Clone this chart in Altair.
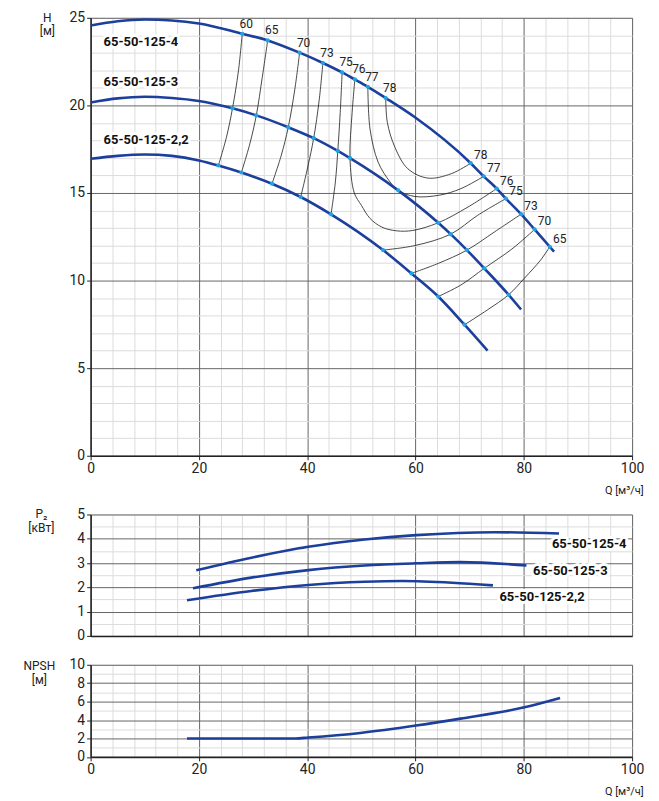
import altair as alt
import pandas as pd

FONT = "Roboto"
BLUE = "#1c3f9c"
CYAN = "#1aa3e6"
INK = "#222222"

# ---------------- H(Q) pump curves ----------------
h4_q = [0, 5, 10, 15, 20, 28.0, 32.7, 38.6, 42.9, 46.45, 48.8, 51.2, 54.5, 59.9,
        70.2, 72.6, 75.0, 76.7, 79.5, 82.0, 84.8, 85.6]
h4_h = [24.56, 24.8, 24.9, 24.85, 24.68, 24.09, 23.71, 23.01, 22.42, 21.88, 21.48,
        21.06, 20.42, 19.32, 16.70, 15.95, 15.25, 14.68, 13.79, 12.92, 11.93, 11.65]

h3_q = [0, 5, 10, 15, 20, 26.2, 30.6, 36.5, 41.2, 45.65, 47.9, 56.8, 64.2, 66.5,
        69.5, 72.7, 77.2, 79.5]
h3_h = [20.17, 20.4, 20.49, 20.42, 20.25, 19.83, 19.43, 18.75, 18.13, 17.40, 16.99,
        15.15, 13.30, 12.65, 11.74, 10.70, 9.19, 8.35]

h22_q = [0, 5, 10, 15, 20, 23.6, 27.85, 33.5, 38.8, 44.4, 54.0, 59.25, 64.2, 69.05, 73.3]
h22_h = [16.95, 17.12, 17.2, 17.12, 16.86, 16.57, 16.17, 15.53, 14.77, 13.78, 11.74,
         10.41, 9.09, 7.48, 6.0]

models = ["65-50-125-4", "65-50-125-3", "65-50-125-2,2"]

# ---------------- efficiency contours ----------------
c60_q = [28.0, 27.3, 26.2, 25.1, 23.6]
c60_h = [24.09, 21.97, 19.83, 18.2, 16.57]
c65_q = [32.7, 31.7, 30.6, 29.4, 27.85]
c65_h = [23.71, 21.6, 19.43, 17.8, 16.17]
c70_q = [38.6, 37.7, 36.5, 35.2, 33.5]
c70_h = [23.01, 20.89, 18.75, 17.14, 15.53]
c73_q = [42.9, 42.2, 41.2, 40.1, 38.8]
c73_h = [22.42, 20.27, 18.13, 16.48, 14.77]
c75a_q = [46.45, 46.1, 45.65, 45.2, 44.4]
c75a_h = [21.88, 19.6, 17.40, 15.63, 13.78]
c76_q = [48.8, 48.3, 47.9, 48.7, 50.0, 51.6, 53.8, 56.5, 59.5, 64.2, 69.7, 75.0]
c76_h = [21.48, 19.6, 16.99, 15.0, 14.3, 13.55, 13.05, 12.84, 12.86, 13.30, 14.2, 15.25]
c77_q = [51.2, 51.6, 53.1, 55.3, 56.8, 59.9, 64.5, 68.4, 72.6]
c77_h = [21.06, 18.66, 16.76, 15.63, 15.15, 14.8, 14.88, 15.25, 15.95]
c78_q = [54.5, 54.8, 56.2, 58.6, 62.3, 66.6, 70.2]
c78_h = [20.42, 19.03, 17.61, 16.38, 15.85, 16.10, 16.70]
c75b_q = [54.0, 59.9, 66.5, 71.5, 76.7]
c75b_h = [11.74, 12.0, 12.65, 13.73, 14.68]
c73b_q = [59.25, 64.2, 69.5, 74.6, 79.5]
c73b_h = [10.41, 10.98, 11.74, 12.78, 13.79]
c70b_q = [64.2, 68.4, 72.7, 77.8, 82.0]
c70b_h = [9.09, 9.75, 10.70, 11.8, 12.92]
c65b_q = [69.05, 73.3, 77.2, 80.1, 83.1, 84.8]
c65b_h = [7.48, 8.33, 9.19, 10.13, 11.17, 11.93]

# intersection markers
m_q = [28.0, 32.7, 38.6, 42.9, 46.45, 48.8, 51.2, 54.5, 70.2, 72.6, 75.0, 76.7, 79.5, 82.0, 84.8,
       26.2, 30.6, 36.5, 41.2, 45.65, 47.9, 56.8, 64.2, 66.5, 69.5, 72.7, 77.2,
       23.6, 27.85, 33.5, 38.8, 44.4, 54.0, 59.25, 64.2, 69.05]
m_h = [24.09, 23.71, 23.01, 22.42, 21.88, 21.48, 21.06, 20.42, 16.70, 15.95, 15.25, 14.68, 13.79, 12.92, 11.93,
       19.83, 19.43, 18.75, 18.13, 17.40, 16.99, 15.15, 13.30, 12.65, 11.74, 10.70, 9.19,
       16.57, 16.17, 15.53, 14.77, 13.78, 11.74, 10.41, 9.09, 7.48]

# efficiency labels
effL_txt = ["60", "65", "70", "73", "75", "76", "77", "78"]
effL_q = [28.0, 32.7, 38.6, 42.9, 46.45, 48.8, 51.2, 54.5]
effL_h = [24.09, 23.71, 23.01, 22.42, 21.88, 21.48, 21.06, 20.42]
effR_txt = ["78", "77", "76", "75", "73", "70", "65"]
effR_q = [70.2, 72.6, 75.0, 76.7, 79.5, 82.0, 84.8]
effR_h = [16.70, 15.95, 15.25, 14.68, 13.79, 12.92, 11.93]

# model labels in H panel
lblH_q = [2.4, 2.4, 2.4]
lblH_h = [23.64, 21.36, 18.03]

# ---------------- P2(Q) ----------------
p4_q = [19.5, 29.7, 40.2, 50.6, 60.1, 74.5, 86.5]
p4_p = [2.70, 3.22, 3.67, 3.97, 4.15, 4.27, 4.22]
p3_q = [18.9, 29.7, 40.2, 50.6, 60.1, 68.3, 80.5]
p3_p = [1.96, 2.40, 2.71, 2.90, 2.99, 3.04, 2.90]
p22_q = [17.8, 29.7, 40.2, 50.6, 57.5, 66.8, 74.3]
p22_p = [1.47, 1.85, 2.10, 2.23, 2.26, 2.19, 2.08]
lblP_q = [85.2, 81.7, 75.5]
lblP_p = [3.79, 2.66, 1.59]

# ---------------- NPSH(Q) ----------------
n_q = [17.8, 30.0, 37.8, 40.2, 49.8, 60.1, 68.3, 79.9, 86.7]
n_v = [2.0, 2.0, 2.0, 2.1, 2.6, 3.4, 4.15, 5.35, 6.4]

# ---------------- tables ----------------
curves = pd.concat([
    pd.DataFrame({"Q": q, "V": h, "model": m})
    for q, h, m in [(h4_q, h4_h, models[0]), (h3_q, h3_h, models[1]), (h22_q, h22_h, models[2])]
])
contour_list = [("60", c60_q, c60_h), ("65", c65_q, c65_h), ("70", c70_q, c70_h),
                ("73", c73_q, c73_h), ("75a", c75a_q, c75a_h), ("76", c76_q, c76_h),
                ("77", c77_q, c77_h), ("78", c78_q, c78_h), ("75b", c75b_q, c75b_h),
                ("73b", c73b_q, c73b_h), ("70b", c70b_q, c70b_h), ("65b", c65b_q, c65b_h)]
contours = pd.concat([
    pd.DataFrame({"Q": q, "V": h, "cid": cid, "ord": list(range(len(q)))})
    for cid, q, h in contour_list
])
markers = pd.DataFrame({"Q": m_q, "V": m_h})
effL = pd.DataFrame({"Q": effL_q, "V": effL_h, "t": effL_txt})
effR = pd.DataFrame({"Q": effR_q, "V": effR_h, "t": effR_txt})
lblH = pd.DataFrame({"Q": lblH_q, "V": lblH_h, "t": models})
power = pd.concat([
    pd.DataFrame({"Q": q, "V": p, "model": m})
    for q, p, m in [(p4_q, p4_p, models[0]), (p3_q, p3_p, models[1]), (p22_q, p22_p, models[2])]
])
lblP = pd.DataFrame({"Q": lblP_q, "V": lblP_p, "t": models})
npsh = pd.DataFrame({"Q": n_q, "V": n_v})


def grid_axis(major, minor, lo, hi, labels=True, ticks=True, **kw):
    n = int(round((hi - lo) / minor))
    vals = [round(lo + i * minor, 4) for i in range(n + 1)]
    test = f"abs(datum.value / {major} - round(datum.value / {major})) < 0.001"
    args = dict(
        values=vals, grid=True,
        gridColor={"condition": {"test": test, "value": "#666666"}, "value": "#dcdcdc"},
        gridWidth=1,
        domainColor=INK, domainWidth=1.5,
        labelFlush=False, labelOverlap=False,
        labelFontSize=14, labelColor=INK, labelFont=FONT, labelPadding=2,
        labelExpr=f"({test}) ? format(datum.value, '~g') : ''",
        tickSize=4, tickWidth=1,
        tickColor={"condition": {"test": test, "value": INK}, "value": "rgba(0,0,0,0)"},
        titleFont=FONT, titleColor=INK, titleFontWeight="normal",
    )
    if not labels:
        args["labels"] = False
    if not ticks:
        args["ticks"] = False
    args.update(kw)
    return alt.Axis(**args)


def enc(xaxis, yaxis, ydom):
    return dict(
        x=alt.X("Q:Q", scale=alt.Scale(domain=[0, 100], nice=False, zero=False), axis=xaxis),
        y=alt.Y("V:Q", scale=alt.Scale(domain=ydom, nice=False, zero=False), axis=yaxis),
    )


q_title = dict(title="Q [м³/ч]", titleFontSize=11, titleAlign="right", titleBaseline="middle",
               titleX=555, titleY=35, titleAngle=0)

# ---- Panel 1: H ----
xa1 = grid_axis(20, 4, 0, 100, **q_title)
ya1 = grid_axis(5, 1, 0, 25, title=["H", "[м]"], titleAngle=0, titleAlign="center",
                titleBaseline="top", titleX=-44, titleY=-5, titleFontSize=12,
                titleLineHeight=13)
e1 = enc(xa1, ya1, [0, 25])

contour_layer = alt.Chart(contours).mark_line(
    color="#1a1a1a", strokeWidth=0.8, interpolate="catmull-rom"
).encode(**e1, detail="cid:N", order="ord:Q")
curve_layer = alt.Chart(curves).mark_line(
    color=BLUE, strokeWidth=2.6, interpolate="monotone"
).encode(**e1, detail="model:N")
marker_layer = alt.Chart(markers).mark_point(
    filled=True, color=CYAN, size=18, opacity=1, shape="circle"
).encode(**e1)
effL_layer = alt.Chart(effL).mark_text(
    font=FONT, fontSize=12, color=INK, dx=4, dy=-10, align="center", baseline="middle"
).encode(**e1, text="t:N")
effR_layer = alt.Chart(effR).mark_text(
    font=FONT, fontSize=12, color=INK, dx=10, dy=-8, align="center", baseline="middle"
).encode(**e1, text="t:N")
lblH_halo = alt.Chart(lblH).mark_text(
    font=FONT, fontSize=13, fontWeight="bold", color="white", stroke="white",
    strokeWidth=6, strokeJoin="round", align="left", baseline="middle"
).encode(**e1, text="t:N")
lblH_text = alt.Chart(lblH).mark_text(
    font=FONT, fontSize=13, fontWeight="bold", color="#111111", align="left", baseline="middle"
).encode(**e1, text="t:N")

panel1 = alt.layer(contour_layer, curve_layer, marker_layer, effL_layer, effR_layer,
                   lblH_halo, lblH_text).properties(width=544, height=440)

# ---- Panel 2: P2 ----
xa2 = grid_axis(20, 4, 0, 100, labels=False, title=None,
                tickSize=10, tickColor="rgba(0,0,0,0)")
ya2 = grid_axis(1, 0.5, 0, 5, title=["P₂", "[кВт]"], titleAngle=0, titleAlign="center",
                titleBaseline="top", titleX=-50, titleY=-6, titleFontSize=12,
                titleLineHeight=14)
e2 = enc(xa2, ya2, [0, 5])
p_curves = alt.Chart(power).mark_line(
    color=BLUE, strokeWidth=2.6, interpolate="monotone"
).encode(**e2, detail="model:N")
lblP_halo = alt.Chart(lblP).mark_text(
    font=FONT, fontSize=13, fontWeight="bold", color="white", stroke="white",
    strokeWidth=6, strokeJoin="round", align="left", baseline="middle"
).encode(**e2, text="t:N")
lblP_text = alt.Chart(lblP).mark_text(
    font=FONT, fontSize=13, fontWeight="bold", color="#111111", align="left", baseline="middle"
).encode(**e2, text="t:N")
panel2 = alt.layer(p_curves, lblP_halo, lblP_text).properties(width=544, height=122)

# ---- Panel 3: NPSH ----
xa3 = grid_axis(20, 4, 0, 100, **q_title)
ya3 = grid_axis(2, 1, 0, 10, title=["NPSH", "[м]"], titleAngle=0, titleAlign="center",
                titleBaseline="top", titleX=-52, titleY=-4, titleFontSize=12,
                titleLineHeight=13.5)
e3 = enc(xa3, ya3, [0, 10])
n_curve = alt.Chart(npsh).mark_line(
    color=BLUE, strokeWidth=2.6, interpolate="monotone"
).encode(**e3)
panel3 = alt.layer(n_curve).properties(width=544, height=92.5)

chart = alt.vconcat(panel1, panel2, panel3, spacing=10).properties(
    padding={"top": 0, "left": 14, "right": 6, "bottom": 1}
).configure_view(stroke=INK, strokeWidth=1.5).configure(
    font=FONT, background="white"
)

chart.save("out.html", embed_options={"renderer": "svg", "actions": False})
